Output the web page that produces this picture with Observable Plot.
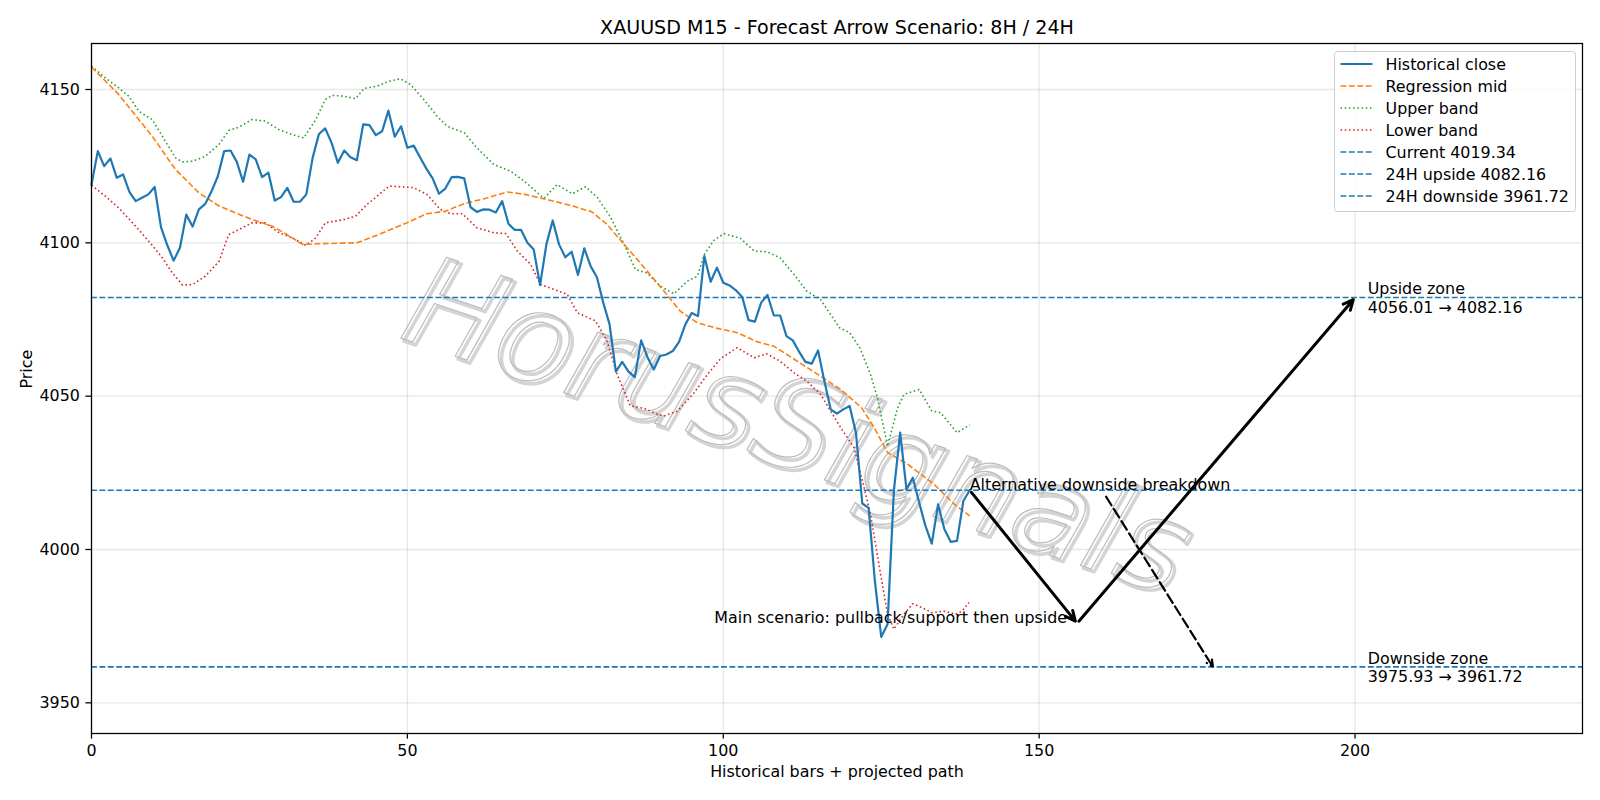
<!DOCTYPE html>
<html>
<head>
<meta charset="utf-8">
<script src="https://cdn.jsdelivr.net/npm/d3@7"></script>
<script src="https://cdn.jsdelivr.net/npm/@observablehq/plot@0.6"></script>
<style>
html, body { margin: 0; padding: 0; background: #fff; overflow: hidden; }
#wrap { position: relative; width: 1600px; height: 800px; font-family: "DejaVu Sans", sans-serif; }
</style>
</head>
<body>
<div id="wrap"></div>
<script>
// ---------------- data ----------------
const titleText = "XAUUSD M15 - Forecast Arrow Scenario: 8H / 24H";
const xLabel = "Historical bars + projected path";
const yLabel = "Price";
const xTicks = [0, 50, 100, 150, 200];
const yTicks = [3950, 4000, 4050, 4100, 4150];

const closeValues = [
  4119.0, 4129.9, 4125.0, 4127.5, 4121.2, 4122.3, 4116.6, 4113.6, 4114.7, 4115.8,
  4118.2, 4105.1, 4099.2, 4094.2, 4098.4, 4109.2, 4105.3, 4110.9, 4112.7, 4116.8,
  4121.7, 4129.9, 4130.1, 4126.4, 4119.9, 4128.8, 4127.2, 4121.4, 4122.9, 4113.8,
  4114.9, 4117.9, 4113.4, 4113.4, 4115.8, 4127.7, 4135.5, 4137.3, 4132.6, 4126.1,
  4130.1, 4127.9, 4126.9, 4138.6, 4138.4, 4135.1, 4136.4, 4143.1, 4134.6, 4138.0,
  4131.0, 4131.7, 4127.9, 4124.2, 4121.0, 4116.0, 4117.7, 4121.4, 4121.5, 4121.0,
  4111.6, 4110.1, 4110.9, 4110.8, 4109.9, 4113.6, 4106.2, 4104.2, 4104.2, 4100.0,
  4097.8, 4086.2, 4099.5, 4107.3, 4099.5, 4095.3, 4097.1, 4089.5, 4098.2, 4092.4,
  4088.8, 4080.5, 4073.4, 4058.0, 4061.2, 4058.0, 4056.2, 4068.2, 4062.7, 4058.7,
  4063.1, 4063.6, 4064.7, 4067.7, 4073.4, 4077.1, 4076.1, 4095.7, 4087.3, 4091.9,
  4087.0, 4086.1, 4084.5, 4082.3, 4074.8, 4074.3, 4080.5, 4083.0, 4076.3, 4076.3,
  4069.6, 4068.2, 4064.5, 4061.2, 4060.6, 4064.9, 4054.9, 4045.7, 4044.3, 4045.7,
  4046.8, 4038.1, 4015.0, 4013.6, 3989.7, 3971.5, 3975.6, 4019.1, 4038.1, 4019.6,
  4023.4, 4015.3, 4007.7, 4001.9, 4014.7, 4006.6, 4002.5, 4002.8, 4015.8, 4019.34
];

const midBars = [0, 4.3, 9.6, 13.3, 17, 20.2, 25.4, 28.6, 30.7, 33.4, 36, 42, 45.2, 49.9, 53.1, 56, 59, 62.2, 65.8, 68.6,
  72.7, 76.2, 79.2, 81.6, 84.3, 87.5, 90.6, 93.2, 95.9, 99.1, 102.2, 105.4, 108, 113.3, 118.6, 121.9, 123.9, 126, 129.2, 133.4, 136.6, 139];
const midValues = [4157.3, 4148.4, 4134.8, 4123.9, 4116.3, 4112.0, 4107.6, 4105.4, 4103.0, 4099.5, 4099.7, 4100.0, 4102.5, 4106.5, 4109.5, 4110.3, 4112.8, 4114.4, 4116.6, 4115.8,
  4113.8, 4112.0, 4110.1, 4106.0, 4099.5, 4091.9, 4084.3, 4077.7, 4073.9, 4072.1, 4070.7, 4067.7, 4066.3, 4059.3, 4052.2, 4046.2, 4039.7, 4031.6, 4027.8, 4021.2, 4014.7, 4011.0];

const upperBars = [0, 2.2, 4.3, 5.9, 7.5, 9.6, 11.7, 13.3, 14.4, 16, 18, 20.2, 21.7, 23.3, 25.4, 27.5, 29.7, 31.8, 33.6, 35.5,
  37, 38.1, 40, 41.8, 43.1, 45.2, 47.1, 48.9, 50.5, 52.6, 54.7, 56.3, 59, 61, 63.7, 66.3, 68.5, 71.6, 73.7, 76.1,
  78.2, 80.1, 82.2, 84.3, 86.1, 87.9, 90, 92.2, 94.3, 95.9, 97, 98.5, 100.1, 102.7, 104.9, 106.9, 109, 111.2, 113.2, 115.4,
  118.4, 120, 121.6, 123.3, 124.4, 126, 127.6, 128.6, 131, 133, 134.4, 137, 139];
const upperValues = [4157.6, 4153.8, 4150.5, 4147.8, 4142.9, 4140.2, 4133.1, 4127.7, 4126.4, 4126.6, 4128.2, 4132.1, 4136.6, 4137.7, 4140.2, 4139.7, 4136.9, 4135.3, 4134.2, 4140.2,
  4146.7, 4148.1, 4147.8, 4147.0, 4150.3, 4151.1, 4152.7, 4153.5, 4151.6, 4146.7, 4141.3, 4138.0, 4135.9, 4131.0, 4125.5, 4123.4, 4120.1, 4114.5, 4119.0, 4116.0,
  4118.3, 4114.7, 4108.2, 4099.5, 4091.3, 4090.2, 4085.9, 4083.4, 4087.5, 4089.1, 4096.2, 4100.8, 4103.0, 4101.5, 4097.3, 4097.1, 4095.1, 4089.7, 4084.3, 4081.5,
  4072.3, 4070.7, 4065.8, 4057.1, 4049.5, 4033.7, 4046.2, 4050.6, 4052.2, 4045.2, 4044.6, 4038.1, 4040.6];

const lowerBars = [0, 2.2, 4.3, 7, 9.6, 11.2, 12.8, 14.4, 16, 18, 20.2, 21.7, 23.3, 25.4, 27.5, 29.7, 31.8, 33.9, 35.5, 37,
  40, 41.8, 43.6, 45.2, 47.1, 48.9, 51, 53.1, 55.2, 56.8, 58.7, 61, 63.7, 65.6, 67.4, 69.5, 71.1, 73.2, 75.3, 76.9,
  79.8, 81.6, 83.2, 85.3, 87.5, 89.6, 90.6, 92.7, 95.2, 97.5, 99.6, 102.2, 104.9, 106.9, 109, 111.2, 113.2, 115.4, 117, 118.6,
  120.7, 122.3, 123.3, 124.9, 126, 127, 128.6, 130, 131.5, 133, 134.9, 136.8, 137.8, 138.9];
const lowerValues = [4118.8, 4115.2, 4111.4, 4105.4, 4099.2, 4095.1, 4090.2, 4086.2, 4086.4, 4089.1, 4094.0, 4102.7, 4104.3, 4106.5, 4106.5, 4103.3, 4101.6, 4099.2, 4101.6, 4106.5,
  4107.6, 4108.7, 4112.5, 4115.2, 4118.5, 4118.3, 4118.0, 4115.8, 4110.9, 4109.5, 4109.5, 4104.9, 4103.3, 4103.0, 4097.3, 4093.0, 4086.4, 4084.8, 4083.2, 4077.2,
  4074.5, 4068.0, 4057.1, 4046.8, 4046.0, 4044.1, 4043.5, 4045.1, 4050.6, 4057.1, 4062.3, 4065.8, 4062.5, 4063.8, 4061.4, 4057.6, 4054.9, 4050.6, 4045.1, 4039.7,
  4033.2, 4020.1, 4011.5, 3991.9, 3978.9, 3974.0, 3978.9, 3982.3, 3981.0, 3979.4, 3979.9, 3978.9, 3979.9, 3982.7];

const levelNames = ["Current", "24H upside", "24H downside"];
const levelValues = [4019.34, 4082.16, 3961.72];
const upsideZone = [4056.01, 4082.16];
const downsideZone = [3975.93, 3961.72];

// projected path arrows
const arrowFromX = [139, 156, 160.6];
const arrowFromY = [4019.34, 3975.93, 4017.2];
const arrowToX = [156, 200, 177.5];
const arrowToY = [3975.93, 4082.16, 3961.72];
const arrowDashed = [false, false, true];

// annotations
const noteTexts = ["Alternative downside breakdown", "Main scenario: pullback/support then upside"];
const noteX = [139, 156];
const noteY = [4019.34, 3975.93];
const zoneTexts = [
  `Upside zone\n${upsideZone[0].toFixed(2)} → ${upsideZone[1].toFixed(2)}`,
  `Downside zone\n${downsideZone[0].toFixed(2)} → ${downsideZone[1].toFixed(2)}`
];
const zoneX = [202, 202];
const zoneY = [upsideZone[1], downsideZone[1]];
const watermarkText = "HorusSignals";

// ---------------- build ----------------
const closeData = closeValues.map((v, i) => ({x: i, y: v}));
const mid = midBars.map((b, i) => ({x: b, y: midValues[i]}));
const upper = upperBars.map((b, i) => ({x: b, y: upperValues[i]}));
const lower = lowerBars.map((b, i) => ({x: b, y: lowerValues[i]}));
const arrows = arrowFromX.map((_, i) => ({x1: arrowFromX[i], y1: arrowFromY[i], x2: arrowToX[i], y2: arrowToY[i], dashed: arrowDashed[i]}));

const C = {blue: "#1f77b4", orange: "#ff7f0e", green: "#2ca02c", red: "#d62728"};
const FS = 15.9;      // 10pt at ~114 dpi
const PT = 1.5875;    // px per point

const chart = Plot.plot({
  width: 1600,
  height: 800,
  marginLeft: 91,
  marginRight: 18,
  marginTop: 43,
  marginBottom: 67,
  style: {fontFamily: "DejaVu Sans, sans-serif", fontSize: FS + "px", background: "white", color: "black", overflow: "visible"},
  x: {domain: [0, 236]},
  y: {domain: [3940, 4165]},
  marks: [
    Plot.gridX(xTicks, {stroke: "#b0b0b0", strokeOpacity: 0.3, strokeWidth: 0.8 * PT}),
    Plot.gridY(yTicks, {stroke: "#b0b0b0", strokeOpacity: 0.3, strokeWidth: 0.8 * PT}),
    // watermark
    Plot.text([watermarkText], {frameAnchor: "middle", text: d => d, dx: -37, dy: 43, rotate: 18.5, fontSize: 125, fontStyle: "italic",
      fill: "none", stroke: "#d4d4d4", strokeWidth: 3.5, lineAnchor: "middle"}),
    Plot.text([watermarkText], {frameAnchor: "middle", text: d => d, dx: -40, dy: 40, rotate: 18.5, fontSize: 125, fontStyle: "italic",
      fill: "none", stroke: "#bdbdbd", strokeWidth: 1.2, lineAnchor: "middle"}),
    // series
    Plot.line(upper, {x: "x", y: "y", stroke: C.green, strokeWidth: PT, strokeDasharray: "1.6,2.6", strokeLinecap: "butt"}),
    Plot.line(lower, {x: "x", y: "y", stroke: C.red, strokeWidth: PT, strokeDasharray: "1.6,2.6", strokeLinecap: "butt"}),
    Plot.line(mid, {x: "x", y: "y", stroke: C.orange, strokeWidth: PT, strokeDasharray: "5.9,2.5", strokeLinecap: "butt"}),
    Plot.line(closeData, {x: "x", y: "y", stroke: C.blue, strokeWidth: 2.2}),
    Plot.ruleY(levelValues, {stroke: C.blue, strokeWidth: PT, strokeDasharray: "5.9,2.5"}),
    // arrows
    Plot.arrow(arrows.filter(d => !d.dashed), {x1: "x1", y1: "y1", x2: "x2", y2: "y2", stroke: "black", strokeWidth: 3,
      headLength: 5.5, headAngle: 50, inset: 2.8}),
    Plot.arrow(arrows.filter(d => d.dashed), {x1: "x1", y1: "y1", x2: "x2", y2: "y2", stroke: "black", strokeWidth: 2.2,
      strokeDasharray: "10,4.4", headLength: 5, headAngle: 50, inset: 0}),
    // annotations
    Plot.text([0], {x: noteX[0], y: noteY[0], text: () => noteTexts[0], textAnchor: "start", lineAnchor: "bottom", fontSize: FS, fill: "black"}),
    Plot.text([1], {x: noteX[1], y: noteY[1], text: () => noteTexts[1], textAnchor: "end", lineAnchor: "bottom", dx: -10, fontSize: FS, fill: "black"}),
    Plot.text(zoneTexts, {x: (d, i) => zoneX[i], y: (d, i) => zoneY[i], text: d => d, textAnchor: "start", lineAnchor: "middle", lineHeight: 1.17, fontSize: FS, fill: "black"}),
    // axes
    Plot.axisX({ticks: xTicks, tickSize: 5.6, tickPadding: 5.5, tickFormat: d => String(d), label: null, strokeWidth: 0.8 * PT}),
    Plot.axisY({ticks: yTicks, tickSize: 5.6, tickPadding: 6, tickFormat: d => String(d), label: null, strokeWidth: 0.8 * PT}),
    Plot.frame({stroke: "black", strokeWidth: 0.8 * PT}),
    // titles
    Plot.text([titleText], {frameAnchor: "top", text: d => d, dy: -9.5, lineAnchor: "bottom", fontSize: 1.2 * FS, fill: "black"}),
    Plot.text([xLabel], {frameAnchor: "bottom", text: d => d, dy: 43, lineAnchor: "bottom", fontSize: FS, fill: "black"}),
    Plot.text([yLabel], {frameAnchor: "left", text: d => d, dx: -64.5, rotate: -90, lineAnchor: "middle", fontSize: FS, fill: "black"})
  ]
});

const wrap = document.getElementById("wrap");
wrap.appendChild(chart);

// ---------------- legend ----------------
const legendItems = [
  {label: "Historical close", color: C.blue, width: 2.2, dash: null},
  {label: "Regression mid", color: C.orange, width: PT, dash: "5.9,2.5"},
  {label: "Upper band", color: C.green, width: PT, dash: "1.6,2.6"},
  {label: "Lower band", color: C.red, width: PT, dash: "1.6,2.6"},
  ...levelNames.map((n, i) => ({label: `${n} ${levelValues[i].toFixed(2)}`, color: C.blue, width: PT, dash: "5.9,2.5"}))
];
const LW = 241, LH = 160, rowStep = 22, row0 = 12.5;
const lsvg = d3.create("svg").attr("width", LW + 2).attr("height", LH + 2)
  .style("position", "absolute").style("left", "1333.5px").style("top", "50.5px");
lsvg.append("rect").attr("x", 0.5).attr("y", 0.5).attr("width", LW).attr("height", LH).attr("rx", 3)
  .attr("fill", "white").attr("fill-opacity", 0.8).attr("stroke", "#cccccc").attr("stroke-width", 1);
legendItems.forEach((it, i) => {
  const cy = row0 + i * rowStep + 0.5;
  lsvg.append("line").attr("x1", 6.5).attr("x2", 38.5).attr("y1", cy).attr("y2", cy)
    .attr("stroke", it.color).attr("stroke-width", it.width)
    .attr("stroke-dasharray", it.dash).attr("stroke-linecap", "butt");
  lsvg.append("text").attr("x", 51.5).attr("y", cy + 5.6).attr("font-size", FS)
    .attr("font-family", "DejaVu Sans, sans-serif").attr("fill", "black").text(it.label);
});
wrap.appendChild(lsvg.node());
</script>
</body>
</html>
